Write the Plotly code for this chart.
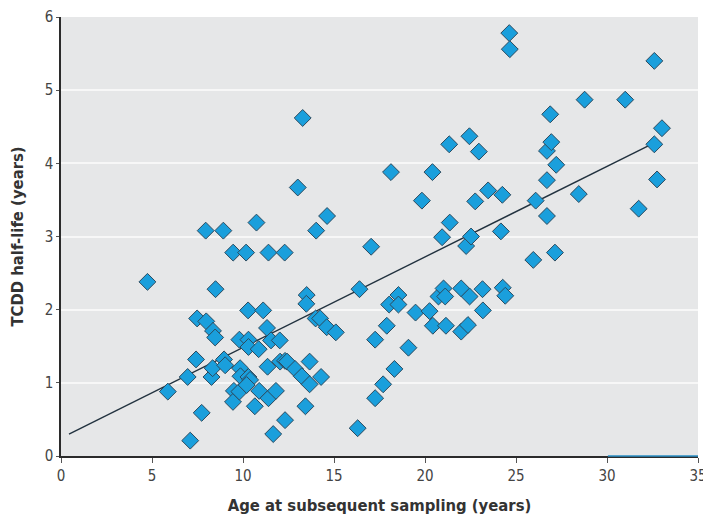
import plotly.graph_objects as go

age_x = [4.75, 5.87, 6.96, 7.10, 7.42, 7.48, 7.73, 7.95, 7.98, 8.35, 8.47, 8.27, 8.33, 8.49,
         8.92, 8.96, 9.02, 9.46, 9.50, 9.45, 9.80, 9.84, 9.86, 9.80, 10.17, 10.28, 10.30,
         10.30, 10.30, 10.39, 10.20, 10.74, 10.86, 10.89, 10.65, 11.11, 11.32, 11.35, 11.40,
         11.40, 11.54, 11.66, 11.81, 12.02, 12.04, 12.29, 12.31, 12.42, 12.31, 12.86, 13.01,
         13.23, 13.28, 13.43, 13.50, 13.48, 13.66, 13.66, 14.02, 13.99, 14.24, 14.29, 14.62,
         14.60, 15.10,
         16.30, 16.40, 17.04, 17.26, 17.26, 17.70, 17.90, 18.03, 18.13, 18.32, 18.54, 18.54,
         19.09, 19.48, 19.83, 20.25, 20.41, 20.43, 20.74, 20.94, 21.02, 21.11, 21.15, 21.36,
         21.33, 21.99, 21.99, 22.26, 22.36, 22.45, 22.44, 22.53, 22.76, 22.96, 23.16, 23.18,
         23.47, 24.17, 24.25, 24.27, 24.41, 24.63, 24.66, 25.95, 26.08, 26.70, 26.70, 26.70,
         26.88, 26.94, 27.14, 27.21, 28.45, 28.77, 31.00, 31.74, 32.60, 32.60, 32.75, 33.02]

half_life_y = [2.38, 0.88, 1.08, 0.21, 1.32, 1.88, 0.59, 3.08, 1.84, 1.71, 1.62, 1.08, 1.20, 2.28,
               3.08, 1.32, 1.24, 2.78, 0.89, 0.74, 1.59, 1.20, 1.09, 0.88, 2.78, 1.99, 1.59,
               1.49, 1.08, 1.04, 0.97, 3.19, 1.46, 0.89, 0.68, 1.99, 1.75, 1.22, 2.78,
               0.79, 1.58, 0.30, 0.89, 1.58, 1.29, 2.78, 1.30, 1.29, 0.49, 1.19, 3.67,
               1.09, 4.62, 0.68, 2.20, 2.08, 1.29, 0.98, 3.08, 1.88, 1.88, 1.08, 3.28,
               1.76, 1.69,
               0.38, 2.28, 2.86, 1.59, 0.79, 0.98, 1.78, 2.07, 3.88, 1.19, 2.20, 2.07,
               1.48, 1.96, 3.49, 1.98, 3.88, 1.78, 2.18, 2.99, 2.29, 2.18, 1.78, 3.19,
               4.26, 2.29, 1.70, 2.87, 1.79, 2.18, 4.37, 3.00, 3.48, 4.16, 2.28, 1.99,
               3.63, 3.07, 3.57, 2.30, 2.19, 5.78, 5.56, 2.68, 3.49, 4.17, 3.77, 3.28,
               4.67, 4.29, 2.78, 3.98, 3.58, 4.87, 4.87, 3.38, 5.40, 4.26, 3.78, 4.48]

fit_x = [0.44, 32.6]
fit_y = [0.30, 4.28]

x_ticks = [0, 5, 10, 15, 20, 25, 30, 35]
y_ticks = [0, 1, 2, 3, 4, 5, 6]

font_family = "Liberation Sans Narrow, DejaVu Sans Condensed, Arial Narrow, sans-serif"

fig = go.Figure()
fig.add_trace(go.Scatter(
    x=fit_x, y=fit_y, mode="lines",
    line=dict(color="#22323f", width=1.4),
    showlegend=False, hoverinfo="skip"))
fig.add_trace(go.Scatter(
    x=age_x, y=half_life_y, mode="markers",
    marker=dict(symbol="diamond", size=13, color="#1a9fdc",
                line=dict(color="#2c4a5e", width=1)),
    showlegend=False))

# blue tail of the x axis line seen in the original
fig.add_shape(type="line", xref="x", yref="paper", x0=30.05, x1=35, y0=0, y1=0,
              line=dict(color="#2a8fc6", width=1.5), layer="above")

# page body has an 8px default margin, so the figure is sized to fit the window
fig.update_layout(
    width=703, height=520,
    margin=dict(l=53, r=13, t=9, b=72),
    paper_bgcolor="white",
    plot_bgcolor="#e6e7e8",
    font=dict(family=font_family, size=15, color="#3a3a3a"),
    xaxis=dict(
        range=[0, 35], tickvals=x_ticks, ticktext=[str(v) for v in x_ticks],
        automargin=False, ticklabeloverflow="allow",
        showgrid=False, zeroline=False,
        showline=True, linecolor="#2b2b2b", linewidth=1.5,
        ticks="outside", ticklen=5, tickcolor="#555", tickwidth=1,
        tickfont=dict(size=15, color="#444"),
        title=dict(text="<b>Age at subsequent sampling (years)</b>",
                   font=dict(size=16.5, color="#333"), standoff=16),
    ),
    yaxis=dict(
        range=[0, 6], tickvals=y_ticks, ticktext=[str(v) for v in y_ticks],
        automargin=False, ticklabeloverflow="allow",
        showgrid=True, gridcolor="#f7f7f7", gridwidth=2,
        zeroline=False,
        showline=True, linecolor="#2b2b2b", linewidth=1.5,
        ticks="outside", ticklen=3, tickcolor="#555", tickwidth=1,
        tickfont=dict(size=15, color="#444"),
        title=dict(text="<b>TCDD half-life (years)</b>",
                   font=dict(size=16.5, color="#333"), standoff=18),
    ),
)

fig.write_html("out.html")
